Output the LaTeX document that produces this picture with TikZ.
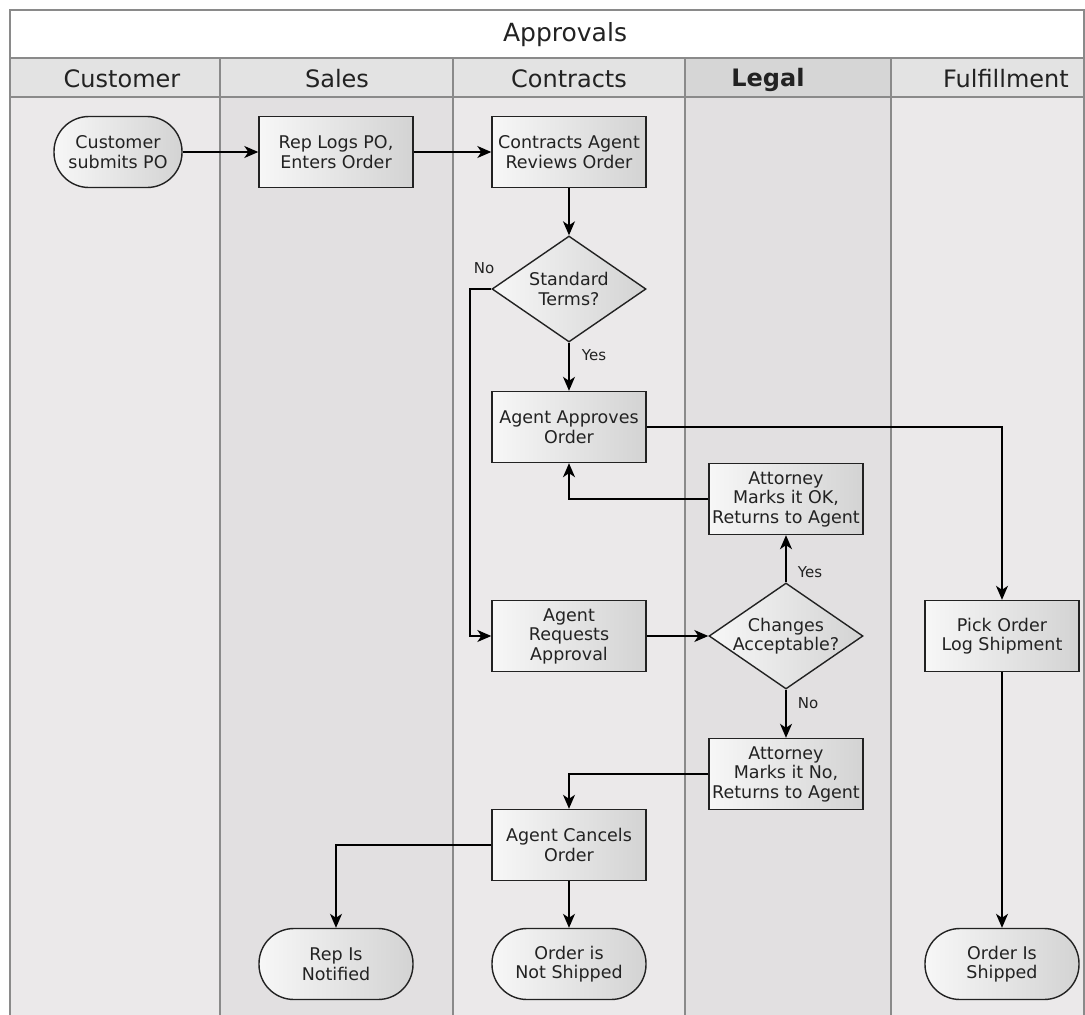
\documentclass[tikz,border=0pt]{standalone}
\usepackage{fontspec}
\setmainfont{DejaVu Sans}
\usetikzlibrary{arrows.meta,shapes.geometric}
\definecolor{laneA}{HTML}{EBE9EA}
\definecolor{laneB}{HTML}{E2E0E1}
\definecolor{headA}{HTML}{E3E3E3}
\definecolor{headB}{HTML}{D6D6D6}
\definecolor{border}{HTML}{8A8A8A}
\definecolor{ink}{HTML}{222222}
\definecolor{shL}{HTML}{F7F7F7}
\definecolor{shR}{HTML}{D3D3D3}
\tikzset{
  nodetext/.style={font=\fontsize{17.5}{19.5}\selectfont, text=ink, align=center},
  procbox/.style={nodetext, draw=ink, line width=1.4pt, left color=shL, right color=shR,
    minimum width=154pt, minimum height=71pt, inner sep=1pt},
  termbox/.style={nodetext, draw=ink, line width=1.4pt, left color=shL, right color=shR,
    minimum width=154pt, minimum height=71pt, rounded corners=35pt, inner sep=1pt},
  decbox/.style={nodetext, draw=ink, line width=1.4pt, left color=shL, right color=shR,
    diamond, minimum width=154pt, minimum height=106pt, inner sep=0pt, aspect=1.45},
  flow/.style={draw=black, line width=1.5pt, -{Stealth[length=14pt,width=12pt,inset=4pt]}},
  edgelabel/.style={font=\fontsize{15}{17}\selectfont, text=ink},
  headtext/.style={font=\fontsize{24}{28}\selectfont, text=ink}
}
\begin{document}
\begin{tikzpicture}[x=1pt,y=-1pt]
\useasboundingbox (0,0) rectangle (1085,1015);
% lanes
\fill[white] (10,10) rectangle (1084,58);
\fill[headA] (10,58) rectangle (220,97);
\fill[headA] (220,58) rectangle (453,97);
\fill[headA] (453,58) rectangle (685,97);
\fill[headB] (685,58) rectangle (891,97);
\fill[headA] (891,58) rectangle (1084,97);
\fill[laneA] (10,97) rectangle (220,1015);
\fill[laneB] (220,97) rectangle (453,1015);
\fill[laneA] (453,97) rectangle (685,1015);
\fill[laneB] (685,97) rectangle (891,1015);
\fill[laneA] (891,97) rectangle (1084,1015);
\draw[border, line width=1.2pt] (10,1015) -- (10,10) -- (1084,10) -- (1084,1015);
\draw[border, line width=1.2pt] (10,58) -- (1084,58);
\draw[border, line width=1.2pt] (10,97) -- (1084,97);
\foreach \xx in {220,453,685,891} \draw[border, line width=1.2pt] (\xx,58) -- (\xx,1015);
% titles
\node[headtext, font=\fontsize{25}{29}\selectfont] (title) at (565,35) {Approvals};
\node[headtext] (hcust) at (122,79) {Customer};
\node[headtext] (hsales) at (337,79) {Sales};
\node[headtext] (hcontr) at (569,79) {Contracts};
\node[headtext, font=\fontsize{24}{28}\selectfont\bfseries] (hlegal) at (768,80) {Legal};
\node[headtext] (hfulf) at (1006,79) {Fulfillment};
% nodes
\node[termbox, minimum width=128pt] (cust) at (118,152) {Customer\\submits PO};
\node[procbox] (rep) at (336,152) {Rep Logs PO,\\Enters Order};
\node[procbox] (review) at (569,152) {Contracts Agent\\Reviews Order};
\node[decbox] (std) at (569,289) {\makebox[70pt]{Standard}\\\makebox[70pt]{Terms?}};
\node[procbox] (approve) at (569,427) {Agent Approves\\Order};
\node[procbox] (okbox) at (786,499) {Attorney\\Marks it OK,\\Returns to Agent};
\node[decbox] (chg) at (786,636) {\makebox[70pt]{Changes}\\\makebox[70pt]{Acceptable?}};
\node[procbox] (req) at (569,636) {Agent\\Requests\\Approval};
\node[procbox] (pick) at (1002,636) {Pick Order\\Log Shipment};
\node[procbox] (nobox) at (786,774) {Attorney\\Marks it No,\\Returns to Agent};
\node[procbox] (cancel) at (569,845) {Agent Cancels\\Order};
\node[termbox] (notified) at (336,964) {Rep Is\\Notified};
\node[termbox] (notship) at (569,964) {Order is\\Not Shipped};
\node[termbox] (shipped) at (1002,964) {Order Is\\Shipped};
% edges
\draw[flow] (cust) -- (rep);
\draw[flow] (rep) -- (review);
\draw[flow] (review) -- (std);
\draw[flow] (std) -- (approve);
\coordinate (nobend) at (470,289);
\draw[flow] (std.west) -- (nobend) |- (req.west);
\draw[flow] (approve.east) -| (pick.north);
\draw[flow] (okbox.west) -| (approve.south);
\draw[flow] (req) -- (chg);
\draw[flow] (chg) -- (okbox);
\draw[flow] (chg) -- (nobox);
\draw[flow] (nobox.west) -| (cancel.north);
\draw[flow] (cancel.west) -| (notified.north);
\draw[flow] (cancel) -- (notship);
\draw[flow] (pick) -- (shipped);
% labels
\node[edgelabel] (lno1) at (484,268) {No};
\node[edgelabel] (lyes1) at (594,355) {Yes};
\node[edgelabel] (lyes2) at (810,572) {Yes};
\node[edgelabel] (lno2) at (808,703) {No};
\end{tikzpicture}
\end{document}
